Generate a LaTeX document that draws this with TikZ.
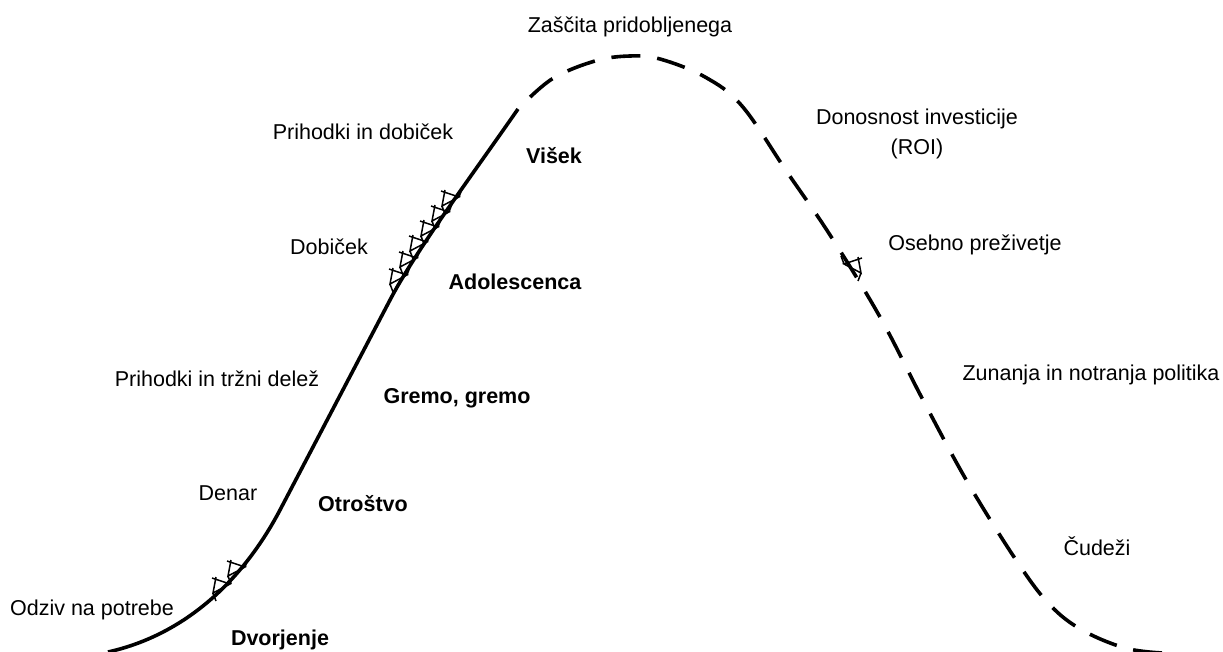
\documentclass[tikz,border=0pt]{standalone}
\usepackage{fontspec}
\setmainfont{Liberation Sans}
\begin{document}
\begin{tikzpicture}[x=1pt,y=-1pt,
  lbl/.style={anchor=base,inner sep=0pt,font=\fontsize{21.5}{30}\selectfont},
  blbl/.style={lbl,font=\fontsize{21.5}{30}\selectfont\bfseries},
  curve/.style={line width=3.6pt,line join=round},
  brk/.pic={\draw[line width=1.5pt,line join=miter] (-9,-10) -- (9,-4) -- (-8,5) -- (-5,-11) (-8,5) -- (-5,13) (9,-4) -- (12,-12);}]
\useasboundingbox (0,0) rectangle (1223,652);
% solid rising part
\draw[curve] (108,652) .. controls (180,636) and (240,586) .. (280,510) -- (390,300) .. controls (415,252) and (470,178) .. (518,109);
% dashed falling part
\draw[curve,dash pattern=on 29pt off 17pt,dash phase=29pt] plot[smooth,tension=0.6] coordinates {(518,109) (552,79) (595,61) (630,56) (660,59) (705,77) (742,106) (787,172) (830,235) (880,317) (923,400) (968,483) (1018,563) (1050,605) (1082,630) (1125,648) (1162,653)};
% break marks
\foreach \px/\py in {221/588,236/571,398/279,408/262,418/246,429/231,440/216,450/201}
  \pic at (\px,\py) {brk};
\pic[xscale=-1] at (853,268) {brk};
% labels
\node[lbl] (zas) at (630,33) {Zaščita pridobljenega};
\node[lbl] (pdo) at (363,140) {Prihodki in dobiček};
\node[blbl] (vis) at (554,164) {Višek};
\node[lbl,align=center] (roi) at (917,155) {Donosnost investicije\\(ROI)};
\node[lbl] (dob) at (329,255) {Dobiček};
\node[lbl] (ose) at (975,251) {Osebno preživetje};
\node[blbl] (ado) at (515,290) {Adolescenca};
\node[lbl] (ptd) at (217,386) {Prihodki in tržni delež};
\node[blbl] (gre) at (457,403) {Gremo, gremo};
\node[lbl] (zun) at (1091,380) {Zunanja in notranja politika};
\node[lbl] (den) at (228,500) {Denar};
\node[blbl] (otr) at (363,511) {Otroštvo};
\node[lbl] (cud) at (1097,555) {Čudeži};
\node[lbl] (odz) at (92,615) {Odziv na potrebe};
\node[blbl] (dvo) at (280,645) {Dvorjenje};
\end{tikzpicture}
\end{document}
